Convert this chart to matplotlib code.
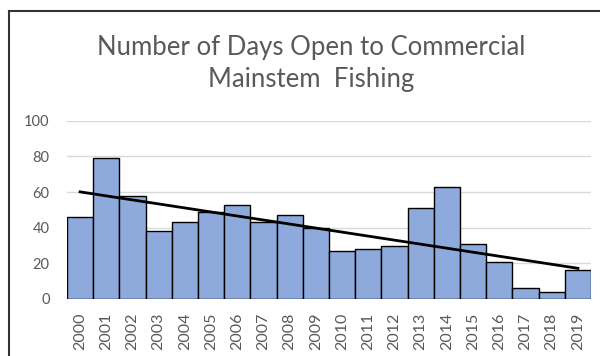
import numpy as np
import matplotlib.pyplot as plt
from matplotlib.lines import Line2D

years = [str(y) for y in range(2000, 2020)]
days = [46, 79, 58, 38, 43, 49, 53, 43, 47, 40,
        27, 28, 30, 51, 63, 31, 21, 6, 4, 16]
title = "Number of Days Open to Commercial\nMainstem  Fishing"

plt.rcParams['font.family'] = ['Lato', 'DejaVu Sans']

fig = plt.figure(figsize=(6, 3.56), dpi=100)
ax = fig.add_axes([67/600, 1-299/356, (591-67)/600, (299-120.7)/356])

x = np.arange(len(days))
ax.bar(x, days, width=1.0, color='#8EA9DB', edgecolor='black', linewidth=1.0, zorder=2)

# linear trendline
k, b = np.polyfit(x, days, 1)
ax.plot(x, k*x + b, color='black', linewidth=2, zorder=3)

ax.set_xlim(-0.5, len(days) - 0.5)
ax.set_ylim(0, 100)
ax.set_yticks(range(0, 101, 20))
ax.set_xticks(x)
ax.set_xticklabels(years, rotation=90)
ax.tick_params(length=0, colors='#595959')
ax.tick_params(axis='y', pad=12.5, labelsize=10.5)
ax.tick_params(axis='x', pad=10, labelsize=11.5)
ax.grid(axis='y', color='#D9D9D9', linewidth=1, zorder=0)
for s in ax.spines.values():
    s.set_visible(False)

fig.text(311/600, 1-64/356, title, ha='center', va='center', fontsize=18.5,
         color='#595959', linespacing=1.35)

# chart border
fig.add_artist(Line2D([9/600, 1], [1-10.5/356, 1-10.5/356], color='#333333', linewidth=1.5))
fig.add_artist(Line2D([9/600, 9/600], [0, 1-10.5/356], color='#333333', linewidth=1.5))

fig.savefig('out.png', dpi=100)
